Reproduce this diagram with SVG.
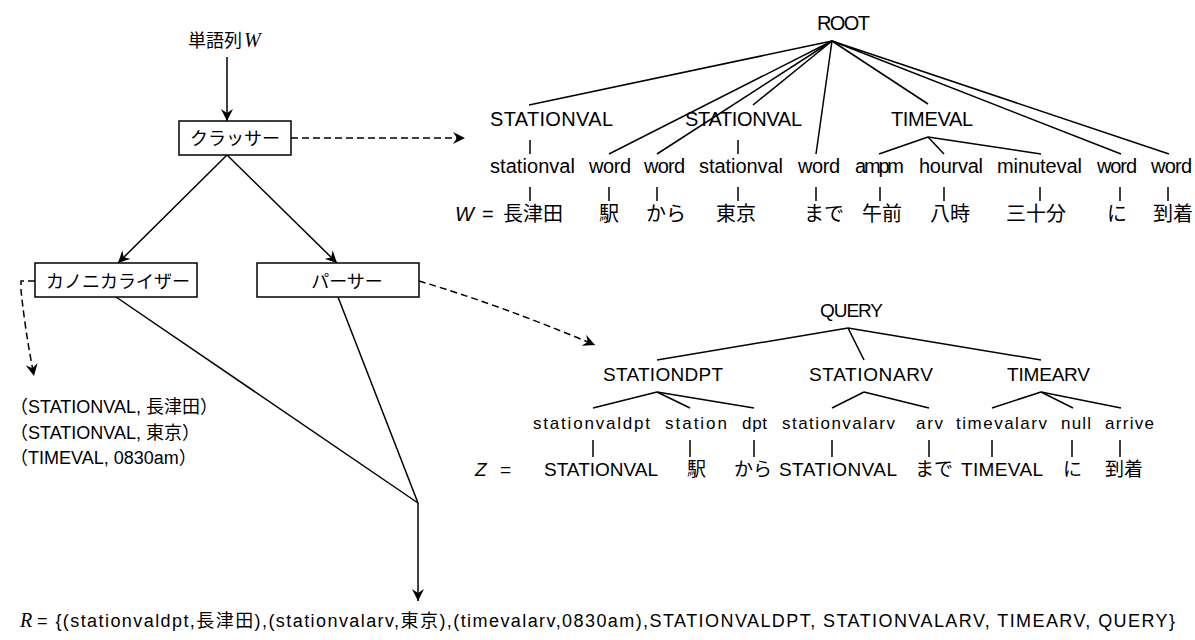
<svg xmlns="http://www.w3.org/2000/svg" width="1195" height="640" viewBox="0 0 1195 640">
<style>
text{font-family:"Liberation Sans","Noto Sans CJK JP",sans-serif;fill:#000}
.t20{font-size:20px}
.t19{font-size:19px}
.t18{font-size:18px}
.t17{font-size:17px}
.it{font-family:"Liberation Serif","Noto Sans CJK JP",serif;font-style:italic}
.its{font-style:italic}
.ln{stroke:#000;stroke-width:1.5;fill:none}
.ds{stroke:#000;stroke-width:1.5;fill:none;stroke-dasharray:7,4}
.box{fill:#fff;stroke:#000;stroke-width:1.5}
</style>
<defs>
<marker id="ah" viewBox="0 0 12 12" refX="12" refY="6" markerWidth="12" markerHeight="12" markerUnits="userSpaceOnUse" orient="auto">
<path d="M0,0 L12,6 L0,12 L4,6 z" fill="#000"/>
</marker>
</defs>

<g id="connectors">
<line class="ln" x1="227" y1="57" x2="227" y2="121" marker-end="url(#ah)"/>
<line class="ds" x1="291" y1="138" x2="465" y2="138" marker-end="url(#ah)"/>
<line class="ln" x1="227" y1="155" x2="118" y2="263" marker-end="url(#ah)"/>
<line class="ln" x1="227" y1="155" x2="337" y2="263" marker-end="url(#ah)"/>
<path class="ds" d="M35,281 L21,281 L21,290 Q25,330 34,376" marker-end="url(#ah)"/>
<path class="ds" d="M419,281 Q500,305 595,345" marker-end="url(#ah)"/>
<line class="ln" x1="116" y1="297" x2="418" y2="503"/>
<line class="ln" x1="338" y1="297" x2="418" y2="503"/>
<line class="ln" x1="418" y1="503" x2="418" y2="601" marker-end="url(#ah)"/>
</g>

<g id="input">
<text class="t18" x="188" y="47">単語列<tspan class="it" font-size="20" dx="2">W</tspan></text>
</g>

<g id="classer">
<rect class="box" x="179" y="121" width="112" height="34"/>
<text class="t18" x="235" y="145" text-anchor="middle">クラッサー</text>
</g>

<g id="canonicalizer">
<rect class="box" x="35" y="263" width="162" height="34"/>
<text class="t18" x="118" y="288" text-anchor="middle">カノニカライザー</text>
</g>

<g id="parser">
<rect class="box" x="257" y="263" width="162" height="34"/>
<text class="t18" x="347" y="288" text-anchor="middle">パーサー</text>
</g>

<g id="canon-output">
<text class="t18" x="10" y="413">（STATIONVAL, 長津田）</text>
<text class="t18" x="10" y="439">（STATIONVAL, 東京）</text>
<text class="t18" x="10" y="464">（TIMEVAL, 0830am）</text>
</g>

<g id="root-tree">
<g class="edges">
<line class="ln" x1="832" y1="41" x2="529" y2="105"/>
<line class="ln" x1="832" y1="41" x2="609" y2="154"/>
<line class="ln" x1="832" y1="41" x2="657" y2="154"/>
<line class="ln" x1="832" y1="41" x2="753" y2="105"/>
<line class="ln" x1="832" y1="41" x2="816" y2="154"/>
<line class="ln" x1="832" y1="41" x2="928" y2="104"/>
<line class="ln" x1="832" y1="41" x2="1121" y2="154"/>
<line class="ln" x1="832" y1="41" x2="1169" y2="154"/>
<line class="ln" x1="928" y1="137" x2="879" y2="154"/>
<line class="ln" x1="928" y1="137" x2="944" y2="154"/>
<line class="ln" x1="928" y1="137" x2="1041" y2="154"/>
<line class="ln" x1="530" y1="140" x2="530" y2="154"/>
<line class="ln" x1="738" y1="140" x2="738" y2="154"/>
<line class="ln" x1="530" y1="187" x2="530" y2="201"/>
<line class="ln" x1="609" y1="187" x2="609" y2="201"/>
<line class="ln" x1="657" y1="187" x2="657" y2="201"/>
<line class="ln" x1="738" y1="187" x2="738" y2="201"/>
<line class="ln" x1="816" y1="187" x2="816" y2="201"/>
<line class="ln" x1="880" y1="187" x2="880" y2="201"/>
<line class="ln" x1="944" y1="187" x2="944" y2="201"/>
<line class="ln" x1="1040" y1="187" x2="1040" y2="201"/>
<line class="ln" x1="1120" y1="187" x2="1120" y2="201"/>
<line class="ln" x1="1168" y1="187" x2="1168" y2="201"/>
</g>
<text class="t20" x="817" y="30" textLength="53">ROOT</text>
<text class="t20" x="490" y="126" textLength="123">STATIONVAL</text>
<text class="t20" x="685" y="126" textLength="117">STATIONVAL</text>
<text class="t20" x="891" y="126" textLength="82">TIMEVAL</text>
<text class="t20" x="490" y="173" textLength="85">stationval</text>
<text class="t20" x="589" y="173" textLength="42">word</text>
<text class="t20" x="644" y="173" textLength="41">word</text>
<text class="t20" x="699" y="173" textLength="84">stationval</text>
<text class="t20" x="798" y="173" textLength="42">word</text>
<text class="t20" x="855" y="173" textLength="49">ampm</text>
<text class="t20" x="919" y="173" textLength="64">hourval</text>
<text class="t20" x="997" y="173" textLength="85">minuteval</text>
<text class="t20" x="1097" y="173" textLength="40">word</text>
<text class="t20" x="1151" y="173" textLength="41">word</text>
<text class="t20 its" x="455" y="221">W</text>
<text class="t20" x="482" y="221">=</text>
<text class="t20" x="503" y="221">長津田</text>
<text class="t20" x="599" y="221">駅</text>
<text class="t20" x="646" y="221">から</text>
<text class="t20" x="716" y="221">東京</text>
<text class="t20" x="804" y="221">まで</text>
<text class="t20" x="862" y="221">午前</text>
<text class="t20" x="930" y="221">八時</text>
<text class="t20" x="1006" y="221">三十分</text>
<text class="t20" x="1107" y="221">に</text>
<text class="t20" x="1153" y="221">到着</text>
</g>

<g id="query-tree">
<g class="edges">
<line class="ln" x1="848" y1="328" x2="657" y2="360"/>
<line class="ln" x1="848" y1="328" x2="864" y2="360"/>
<line class="ln" x1="848" y1="328" x2="1041" y2="360"/>
<line class="ln" x1="657" y1="392" x2="593" y2="408"/>
<line class="ln" x1="657" y1="392" x2="690" y2="408"/>
<line class="ln" x1="657" y1="392" x2="754" y2="408"/>
<line class="ln" x1="864" y1="392" x2="832" y2="408"/>
<line class="ln" x1="864" y1="392" x2="929" y2="408"/>
<line class="ln" x1="1041" y1="392" x2="992" y2="408"/>
<line class="ln" x1="1041" y1="392" x2="1073" y2="408"/>
<line class="ln" x1="1041" y1="392" x2="1121" y2="408"/>
<line class="ln" x1="593" y1="440" x2="593" y2="457"/>
<line class="ln" x1="690" y1="440" x2="690" y2="457"/>
<line class="ln" x1="754" y1="440" x2="754" y2="457"/>
<line class="ln" x1="832" y1="440" x2="832" y2="457"/>
<line class="ln" x1="929" y1="440" x2="929" y2="457"/>
<line class="ln" x1="992" y1="440" x2="992" y2="457"/>
<line class="ln" x1="1072" y1="440" x2="1072" y2="457"/>
<line class="ln" x1="1120" y1="440" x2="1120" y2="457"/>
</g>
<text class="t19" x="820" y="317" textLength="63">QUERY</text>
<text class="t19" x="603" y="381" textLength="120">STATIONDPT</text>
<text class="t19" x="809" y="381" textLength="124">STATIONARV</text>
<text class="t19" x="1007" y="381" textLength="83">TIMEARV</text>
<text class="t17" x="533" y="429" textLength="117">stationvaldpt</text>
<text class="t17" x="665" y="429" textLength="62">station</text>
<text class="t17" x="742" y="429" textLength="25">dpt</text>
<text class="t17" x="782" y="429" textLength="113">stationvalarv</text>
<text class="t17" x="916" y="429" textLength="27">arv</text>
<text class="t17" x="956" y="429" textLength="91">timevalarv</text>
<text class="t17" x="1061" y="429" textLength="30">null</text>
<text class="t17" x="1105" y="429" textLength="49">arrive</text>
<text class="t19 its" x="475" y="476">Z</text>
<text class="t19" x="500" y="476">=</text>
<text class="t19" x="544" y="476" textLength="114">STATIONVAL</text>
<text class="t19" x="687" y="476">駅</text>
<text class="t19" x="734" y="476">から</text>
<text class="t19" x="779" y="476" textLength="118">STATIONVAL</text>
<text class="t19" x="915" y="476">まで</text>
<text class="t19" x="961" y="476" textLength="82">TIMEVAL</text>
<text class="t19" x="1063" y="476">に</text>
<text class="t19" x="1105" y="476">到着</text>
</g>

<g id="result">
<text class="t20 it" x="20" y="627">R</text>
<text class="t18" x="37" y="627" textLength="1138">= {(stationvaldpt,長津田),(stationvalarv,東京),(timevalarv,0830am),STATIONVALDPT, STATIONVALARV, TIMEARV, QUERY}</text>
</g>
</svg>
